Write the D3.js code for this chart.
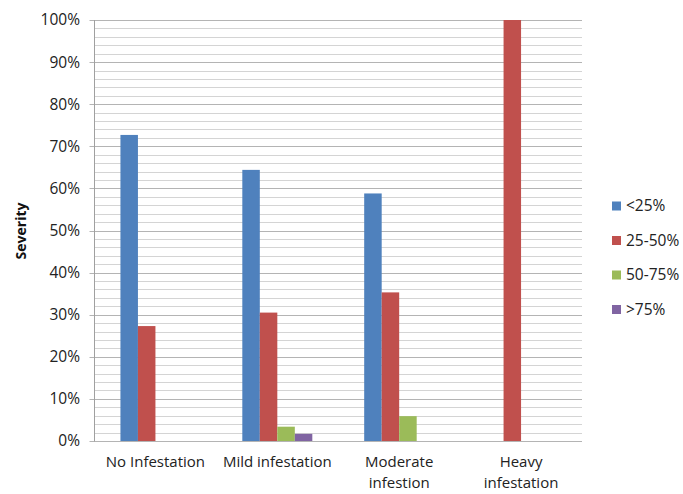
<!DOCTYPE html>
<html><head><meta charset="utf-8">
<script src="https://cdn.jsdelivr.net/npm/d3@7"></script>
<style>body{margin:0;background:#fff;} svg{display:block;font-family:"Open Sans","Liberation Sans",sans-serif;}</style>
</head><body>
<svg id="c" width="683" height="494"></svg>
<script>
const categories = [["No Infestation"], ["Mild infestation"], ["Moderate", "infestion"], ["Heavy", "infestation"]];
const seriesNames = ["<25%", "25-50%", "50-75%", ">75%"];
const seriesColors = ["#4F81BD", "#C0504D", "#9BBB59", "#8064A2"];
const lt25 = [72.7, 64.4, 58.8, 0];
const s25to50 = [27.3, 30.5, 35.3, 100];
const s50to75 = [0, 3.4, 5.9, 0];
const gt75 = [0, 1.7, 0, 0];
const yTicks = [0, 10, 20, 30, 40, 50, 60, 70, 80, 90, 100];
const yMinorTicks = d3.range(0, 101, 2);
const seriesValues = [lt25, s25to50, s50to75, gt75];

const svg = d3.select("#c");
const L = 94.5, R = 582, T = 20, B = 441;
const x = d3.scaleBand().domain(d3.range(categories.length)).range([L, R]).paddingInner(0).paddingOuter(0);
const y = d3.scaleLinear().domain([0, 100]).range([B, T]);
const bw = 17.5;
const xs = d3.scaleBand().domain(d3.range(seriesNames.length)).range([0, bw * 4]);

// minor gridlines
svg.append("g").selectAll("line").data(yMinorTicks).join("line")
  .attr("x1", L).attr("x2", R)
  .attr("y1", d => Math.round(y(d)) + 0.5).attr("y2", d => Math.round(y(d)) + 0.5)
  .attr("stroke", "#d4d4d4").attr("stroke-width", 1);
// major gridlines
svg.append("g").selectAll("line").data(yTicks).join("line")
  .attr("x1", L - 5).attr("x2", R)
  .attr("y1", d => Math.round(y(d)) + 0.5).attr("y2", d => Math.round(y(d)) + 0.5)
  .attr("stroke", "#b4b4b4").attr("stroke-width", 1);
// axis line
svg.append("line").attr("x1", L).attr("x2", L).attr("y1", T).attr("y2", B + 0.5)
  .attr("stroke", "#a0a0a0");

// bars
seriesValues.forEach((vals, si) => {
  svg.append("g").selectAll("rect").data(vals).join("rect")
    .attr("x", (d, i) => x(i) + x.bandwidth() / 2 - bw * 2 + xs(si))
    .attr("width", xs.bandwidth())
    .attr("y", d => y(d))
    .attr("height", d => B - y(d))
    .attr("fill", seriesColors[si]);
});

// y tick labels
svg.append("g").selectAll("text").data(yTicks).join("text")
  .attr("x", 80).attr("y", d => y(d)).attr("dy", "0.35em")
  .attr("text-anchor", "end").attr("font-size", 15.5).attr("fill", "#222")
  .text(d => d + "%");

// y title
svg.append("text").attr("transform", "translate(26,231) rotate(-90)")
  .attr("text-anchor", "middle").attr("font-size", 14).attr("font-weight", "bold").attr("fill", "#111")
  .text("Severity");

// x labels
const xl = svg.append("g").selectAll("text").data(categories).join("text")
  .attr("x", (d, i) => x(i) + x.bandwidth() / 2)
  .attr("y", 467).attr("text-anchor", "middle").attr("font-size", 15).attr("fill", "#222");
xl.each(function (d) {
  const t = d3.select(this);
  d.forEach((line, k) => {
    t.append("tspan").attr("x", t.attr("x")).attr("dy", k === 0 ? 0 : 21).text(line);
  });
});

// legend
const lg = svg.append("g").selectAll("g").data(seriesNames).join("g")
  .attr("transform", (d, i) => `translate(612,${206 + i * 34.5})`);
lg.append("rect").attr("x", 0).attr("y", -4.5).attr("width", 9).attr("height", 9)
  .attr("fill", (d, i) => seriesColors[i]);
lg.append("text").attr("x", 14).attr("y", 0).attr("dy", "0.35em").attr("font-size", 15.5).attr("fill", "#222")
  .text(d => d);
</script>
</body></html>
